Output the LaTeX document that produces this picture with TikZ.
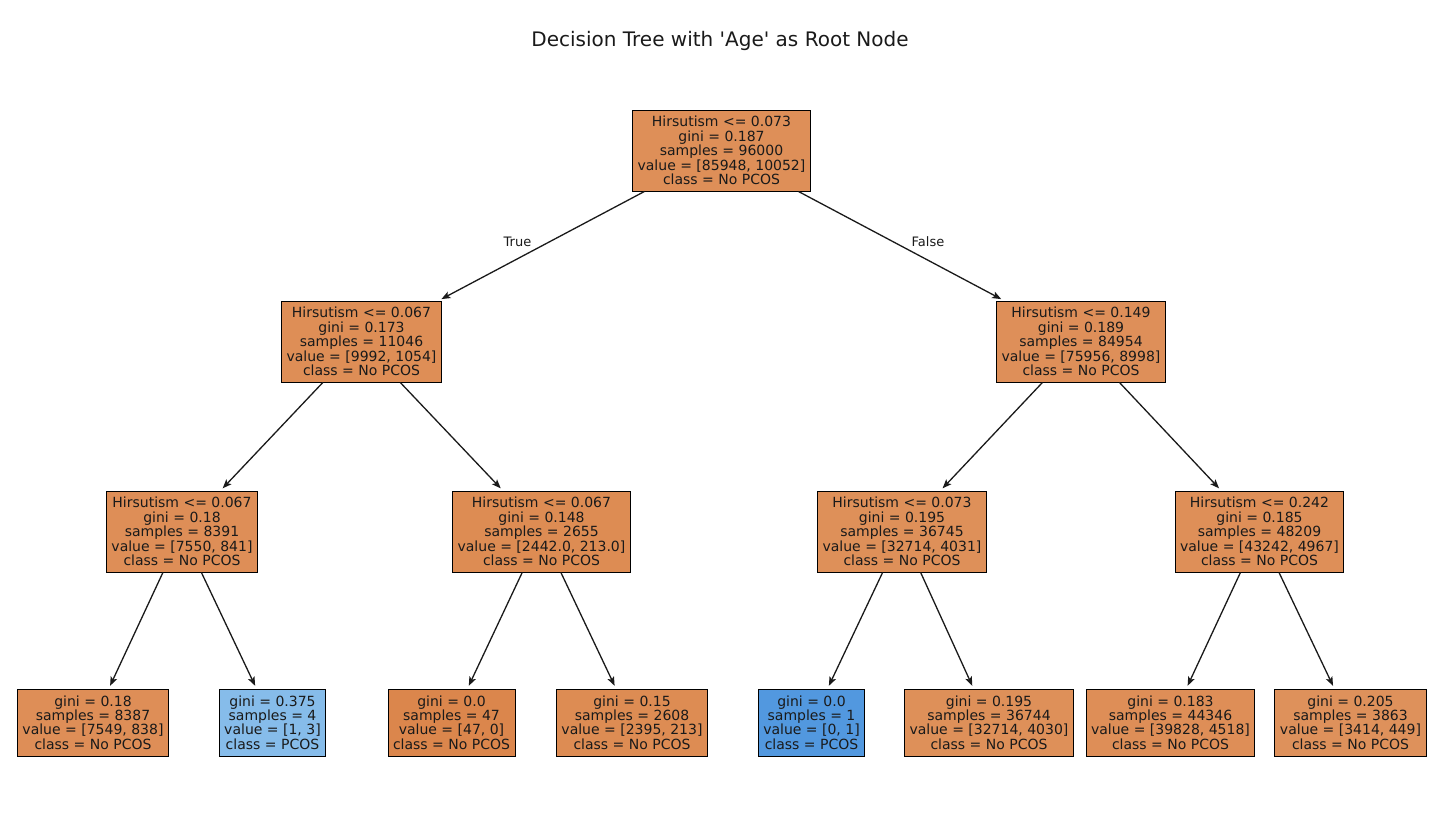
\documentclass[tikz,border=0pt]{standalone}
\usepackage{fontspec}
\setmainfont{DejaVu Sans}[Ligatures=TeXOff]
\usetikzlibrary{arrows.meta}
\definecolor{cRoot}{RGB}{222,143,88}
\definecolor{cA}{RGB}{222,142,86}
\definecolor{cB}{RGB}{222,143,89}
\definecolor{cCa}{RGB}{222,142,87}
\definecolor{cCb}{RGB}{221,140,83}
\definecolor{cCc}{RGB}{222,144,89}
\definecolor{cCd}{RGB}{222,143,88}
\definecolor{cLa}{RGB}{222,142,87}
\definecolor{cLb}{RGB}{134,188,234}
\definecolor{cLc}{RGB}{219,134,76}
\definecolor{cLd}{RGB}{221,140,83}
\definecolor{cLe}{RGB}{82,152,223}
\definecolor{cLf}{RGB}{222,144,89}
\definecolor{cLg}{RGB}{222,142,87}
\definecolor{cLh}{RGB}{222,145,91}
\definecolor{txt}{RGB}{26,26,26}
\begin{document}
\begin{tikzpicture}[x=1pt,y=-1pt,
  tbox/.style={draw=black, line width=1pt, align=center, text=txt,
    font=\fontsize{14}{14.4}\selectfont, inner xsep=5pt, inner ysep=0pt,
    minimum height=81pt},
  leafbox/.style={tbox, minimum height=67pt},
  edge/.style={draw=txt, line width=1.3pt, shorten >=3pt,
    -{Stealth[length=9pt,width=7pt,inset=2pt]}},
  elabel/.style={text=txt, font=\fontsize{13}{15}\selectfont}]
\useasboundingbox (0,0) rectangle (1448,812);
\node[text=txt, font=\fontsize{20}{24}\selectfont, anchor=base] (title) at (720,46) {Decision Tree with 'Age' as Root Node};

\node[tbox, fill=cRoot] (root) at (721.5,150.5) {Hirsutism <= 0.073\\gini = 0.187\\samples = 96000\\value = [85948, 10052]\\class = No PCOS};
\node[tbox, fill=cA] (A) at (361.5,341.5) {Hirsutism <= 0.067\\gini = 0.173\\samples = 11046\\value = [9992, 1054]\\class = No PCOS};
\node[tbox, fill=cB] (B) at (1081,341.5) {Hirsutism <= 0.149\\gini = 0.189\\samples = 84954\\value = [75956, 8998]\\class = No PCOS};

\node[tbox, fill=cCa] (C1) at (182,531.5) {Hirsutism <= 0.067\\gini = 0.18\\samples = 8391\\value = [7550, 841]\\class = No PCOS};
\node[tbox, fill=cCb] (C2) at (541.5,531.5) {Hirsutism <= 0.067\\gini = 0.148\\samples = 2655\\value = [2442.0, 213.0]\\class = No PCOS};
\node[tbox, fill=cCc] (C3) at (902,531.5) {Hirsutism <= 0.073\\gini = 0.195\\samples = 36745\\value = [32714, 4031]\\class = No PCOS};
\node[tbox, fill=cCd] (C4) at (1259.5,531.5) {Hirsutism <= 0.242\\gini = 0.185\\samples = 48209\\value = [43242, 4967]\\class = No PCOS};

\node[leafbox, fill=cLa] (L1) at (93,722.5) {gini = 0.18\\samples = 8387\\value = [7549, 838]\\class = No PCOS};
\node[leafbox, fill=cLb] (L2) at (272.5,722.5) {gini = 0.375\\samples = 4\\value = [1, 3]\\class = PCOS};
\node[leafbox, fill=cLc] (L3) at (451.5,722.5) {gini = 0.0\\samples = 47\\value = [47, 0]\\class = No PCOS};
\node[leafbox, fill=cLd] (L4) at (632,722.5) {gini = 0.15\\samples = 2608\\value = [2395, 213]\\class = No PCOS};
\node[leafbox, fill=cLe] (L5) at (811.5,722.5) {gini = 0.0\\samples = 1\\value = [0, 1]\\class = PCOS};
\node[leafbox, fill=cLf] (L6) at (989,722.5) {gini = 0.195\\samples = 36744\\value = [32714, 4030]\\class = No PCOS};
\node[leafbox, fill=cLg] (L7) at (1170.5,722.5) {gini = 0.183\\samples = 44346\\value = [39828, 4518]\\class = No PCOS};
\node[leafbox, fill=cLh] (L8) at (1350.5,722.5) {gini = 0.205\\samples = 3863\\value = [3414, 449]\\class = No PCOS};

\draw[edge] (root) -- (A);
\draw[edge] (root) -- (B);
\draw[edge] (A) -- (C1);
\draw[edge] (A) -- (C2);
\draw[edge] (B) -- (C3);
\draw[edge] (B) -- (C4);
\draw[edge] (C1) -- (L1);
\draw[edge] (C1) -- (L2);
\draw[edge] (C2) -- (L3);
\draw[edge] (C2) -- (L4);
\draw[edge] (C3) -- (L5);
\draw[edge] (C3) -- (L6);
\draw[edge] (C4) -- (L7);
\draw[edge] (C4) -- (L8);

\node[elabel] (ltrue) at (517.5,241.5) {True};
\node[elabel] (lfalse) at (928,241.5) {False};
\end{tikzpicture}
\end{document}
